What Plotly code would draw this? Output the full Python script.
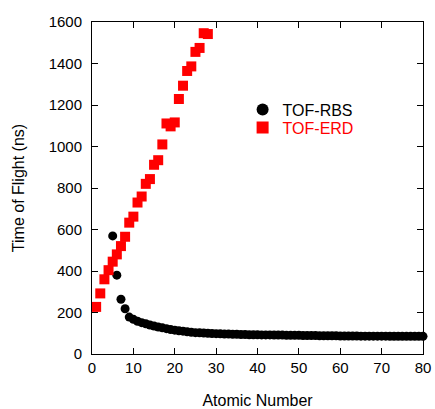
import plotly.graph_objects as go

erd_z = list(range(1, 29))
erd_tof = [227, 292, 360, 404, 445, 480, 520, 565, 633, 662, 730, 759, 820, 843,
           912, 934, 1010, 1111, 1097, 1116, 1229, 1293, 1364, 1386, 1456, 1475, 1546, 1542]

rbs_z = list(range(5, 81))
rbs_tof = [569, 380, 264, 218, 178, 167, 158, 151, 146, 140, 135, 130, 126, 122, 118, 115,
           112, 110, 107, 105, 103, 102, 101, 100, 99, 98, 97, 96, 96, 95, 95, 94, 94, 93,
           93, 93, 92, 92, 92, 91, 91, 91, 90, 90, 90, 90, 89, 89, 89, 89, 88, 88, 88, 88,
           88, 87, 87, 87, 87, 87, 86, 86, 86, 86, 86, 86, 86, 85, 85, 85, 85, 85, 85, 85, 85, 85]

x_ticks = [0, 10, 20, 30, 40, 50, 60, 70, 80]
y_ticks = [0, 200, 400, 600, 800, 1000, 1200, 1400, 1600]

FONT = "Liberation Sans, Arial"

fig = go.Figure()
fig.add_trace(go.Scatter(x=rbs_z, y=rbs_tof, mode="markers", name="TOF-RBS",
                         marker=dict(symbol="circle", size=9, color="black"),
                         cliponaxis=False, legend="legend"))
fig.add_trace(go.Scatter(x=erd_z, y=erd_tof, mode="markers",
                         name="<span style='color:#ff0000'>TOF-ERD</span>",
                         marker=dict(symbol="square", size=10, color="#ff0000"),
                         cliponaxis=False, legend="legend2"))

axis_common = dict(showline=True, linecolor="black", linewidth=1, mirror="ticks",
                   ticks="inside", ticklen=6, tickwidth=1, tickcolor="black",
                   showgrid=False, zeroline=False,
                   tickfont=dict(family=FONT, size=15, color="black"))

fig.update_xaxes(range=[0, 80], tickvals=x_ticks, **axis_common,
                 title=dict(text="Atomic Number", font=dict(family=FONT, size=16, color="black"),
                            standoff=24), automargin=False)
fig.update_yaxes(range=[0, 1600], tickvals=y_ticks, **axis_common, ticklabelstandoff=6,
                 title=dict(text="Time of Flight (ns)", font=dict(family=FONT, size=16, color="black"),
                            standoff=20), automargin=False)

leg_common = dict(xanchor="left", yanchor="top", bgcolor="rgba(0,0,0,0)",
                  font=dict(family=FONT, size=16, color="black"), itemsizing="constant")

fig.update_layout(width=435, height=409, paper_bgcolor="white", plot_bgcolor="white",
                  margin=dict(l=92, r=12, t=22, b=55),
                  showlegend=True,
                  legend=dict(x=0.455, y=0.787, **leg_common),
                  legend2=dict(x=0.455, y=0.733, **leg_common))

fig.write_html("out.html", config={"displayModeBar": False},
               post_script="document.body.style.margin='0';document.body.style.padding='0';")
